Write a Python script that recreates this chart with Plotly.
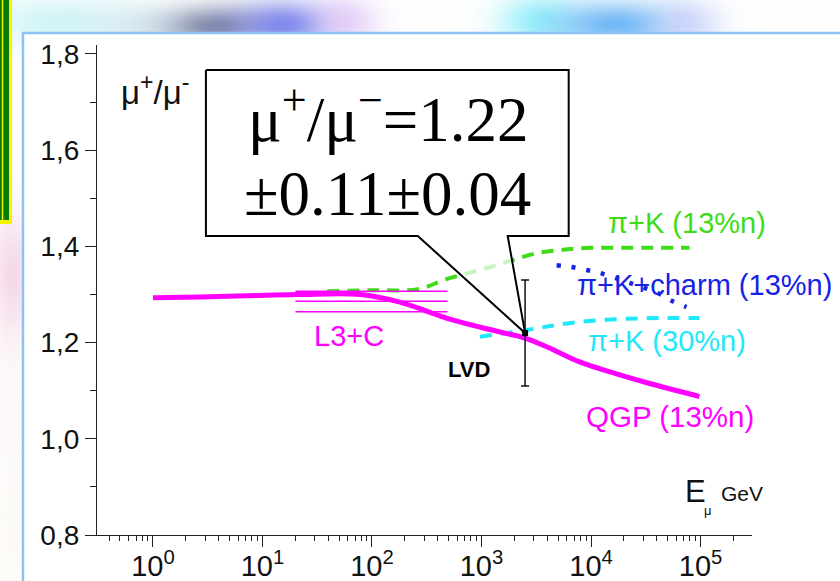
import base64
import struct
import zlib

import numpy as np
import plotly.graph_objects as go

# ---------------- data ----------------
# QGP (13%n) prediction
qgp_E = [1, 2.7, 9.5, 22, 78, 180, 513, 1480, 2450, 3980, 7870, 17100, 34300, 97700]
qgp_r = [1.293, 1.295, 1.298, 1.300, 1.300, 1.284, 1.249, 1.222, 1.210, 1.191, 1.160, 1.135, 1.115, 1.088]

# pi+K (13%n)
pk13_E = [39, 102, 263, 479, 1122, 1950, 3236, 5495, 9772, 22900, 79400]
pk13_r = [1.307, 1.309, 1.311, 1.332, 1.355, 1.372, 1.386, 1.393, 1.397, 1.397, 1.397]

# pi+K (30%n)
pk30_E = [966, 1928, 3260, 4660, 7870, 18240, 42300, 98000]
pk30_r = [1.212, 1.222, 1.230, 1.236, 1.243, 1.249, 1.251, 1.251]

# pi+K+charm (13%n)
charm_E = [4850, 6650, 9120, 11970, 24000, 40550, 55600, 74500]
charm_r = [1.361, 1.357, 1.351, 1.345, 1.322, 1.303, 1.286, 1.274]

# L3+C measurement band (energy span and ratio levels)
l3c_E = [20, 490]
l3c_r = [1.307, 1.286, 1.264]

# LVD measurement
lvd_E = [2500]
lvd_r = [1.22]
lvd_err = [0.11]

x_tick_vals = [1, 10, 100, 1000, 10000, 100000]
x_tick_text = ["10<sup>0</sup>", "10<sup>1</sup>", "10<sup>2</sup>",
               "10<sup>3</sup>", "10<sup>4</sup>", "10<sup>5</sup>"]

# ---------------- page geometry ----------------
W, H = 840, 581


def P(xpx, ypx):
    """pixel position on the page -> paper coordinates"""
    return xpx / W, 1 - ypx / H


# ---------------- soft slide background ----------------
def png_uri(rgb):
    h, w, _ = rgb.shape
    raw = b"".join(b"\x00" + rgb[i].tobytes() for i in range(h))

    def chunk(tag, data):
        c = struct.pack(">I", len(data)) + tag + data
        return c + struct.pack(">I", zlib.crc32(tag + data) & 0xFFFFFFFF)

    png = (b"\x89PNG\r\n\x1a\n"
           + chunk(b"IHDR", struct.pack(">IIBBBBB", w, h, 8, 2, 0, 0, 0))
           + chunk(b"IDAT", zlib.compress(raw, 9))
           + chunk(b"IEND", b""))
    return "data:image/png;base64," + base64.b64encode(png).decode()


yy, xx = np.mgrid[0:H, 0:W].astype(float)
bg = np.full((H, W, 3), 255.0)
blobs = [
    # cx, cy, sx, sy, colour, strength
    (60, 22, 55, 18, (205, 244, 246), 0.9),
    (140, 24, 40, 14, (212, 230, 240), 0.6),
    (215, 26, 35, 14, (105, 112, 148), 0.8),
    (285, 24, 35, 16, (110, 120, 235), 0.85),
    (345, 20, 22, 16, (228, 195, 245), 0.65),
    (540, 20, 28, 18, (150, 245, 250), 0.9),
    (615, 24, 45, 16, (100, 178, 245), 0.9),
    (685, 22, 22, 16, (198, 200, 250), 0.6),
    (12, 275, 14, 45, (240, 200, 222), 0.7),
    (12, 420, 14, 70, (248, 238, 242), 0.4),
    (12, 540, 14, 40, (250, 246, 228), 0.4),
]
for cx, cy, sx, sy, col, s in blobs:
    w = s * np.exp(-((xx - cx) ** 2 / (2 * sx ** 2) + (yy - cy) ** 2 / (2 * sy ** 2)))
    bg = bg * (1 - w[..., None]) + np.array(col, float) * w[..., None]
bg_uri = png_uri(np.clip(bg, 0, 255).astype(np.uint8))

# ---------------- figure ----------------
fig = go.Figure()

GREEN = "#3ddc16"
CYAN = "#1ee8fa"
BLUE = "#1423e6"
MAGENTA = "#ff00ff"

fig.add_trace(go.Scatter(x=pk13_E, y=pk13_r, mode="lines", line_shape="spline",
                         line=dict(color=GREEN, width=4, dash="12px,8px"),
                         showlegend=False, hoverinfo="skip"))
fig.add_trace(go.Scatter(x=pk30_E, y=pk30_r, mode="lines", line_shape="spline",
                         line=dict(color=CYAN, width=4, dash="12px,9px"),
                         showlegend=False, hoverinfo="skip"))
fig.add_trace(go.Scatter(x=charm_E, y=charm_r, mode="lines", line_shape="spline",
                         line=dict(color=BLUE, width=4.5, dash="4px,11px"),
                         showlegend=False, hoverinfo="skip"))

# L3+C band: three thin horizontal lines
l3_x, l3_y = [], []
for r in l3c_r:
    l3_x += [l3c_E[0], l3c_E[1], None]
    l3_y += [r, r, None]
fig.add_trace(go.Scatter(x=l3_x, y=l3_y, mode="lines",
                         line=dict(color=MAGENTA, width=1.5),
                         showlegend=False, hoverinfo="skip"))

fig.add_trace(go.Scatter(x=qgp_E, y=qgp_r, mode="lines", line_shape="spline",
                         line=dict(color=MAGENTA, width=5),
                         showlegend=False, hoverinfo="skip"))

# callout box pointing at the LVD point
box_E = (3.045, 6252)      # left / right edge of the box (GeV)
box_r = (1.4216, 1.7667)   # bottom / top of the box
stem_E = (262, 1734)       # where the pointer leaves the box
call_x = [box_E[0], box_E[1], box_E[1], stem_E[1], lvd_E[0], stem_E[0], box_E[0], box_E[0]]
call_y = [box_r[1], box_r[1], box_r[0], box_r[0], lvd_r[0], box_r[0], box_r[0], box_r[1]]
fig.add_trace(go.Scatter(x=call_x, y=call_y, mode="lines", fill="toself",
                         fillcolor="rgba(255,255,255,0.72)",
                         line=dict(color="black", width=2),
                         showlegend=False, hoverinfo="skip"))

fig.add_trace(go.Scatter(x=lvd_E, y=lvd_r, mode="markers",
                         marker=dict(symbol="square", size=6, color="black"),
                         error_y=dict(type="data", array=lvd_err, color="#111",
                                      thickness=1.5, width=4),
                         showlegend=False, hoverinfo="skip"))

# ---------------- axes ----------------
x_dom = (97 / W, 752 / W)
y_dom = (1 - 535 / H, 1 - 45 / H)

fig.update_xaxes(type="log", range=[-0.511, 5.470], domain=x_dom, automargin=False,
                 showline=True, linecolor="#222", linewidth=1.3,
                 ticks="outside", ticklen=11, tickwidth=1.3, tickcolor="#222",
                 tickvals=x_tick_vals, ticktext=x_tick_text, ticklabelstandoff=-6,
                 tickfont=dict(family="Liberation Sans, Arial", size=29, color="#111"),
                 showgrid=False, zeroline=False,
                 minor=dict(ticks="outside", ticklen=5, tickwidth=1.2,
                            tickcolor="#222", dtick="D1", showgrid=False))
fig.update_yaxes(range=[0.8, 1.8187], domain=y_dom, automargin=False,
                 showline=True, linecolor="#222", linewidth=1.3,
                 ticks="outside", ticklen=11, tickwidth=1.3, tickcolor="#222",
                 tick0=0.8, dtick=0.2, tickformat=".1f",
                 tickfont=dict(family="Liberation Sans, Arial", size=28, color="#111"),
                 showgrid=False, zeroline=False,
                 minor=dict(ticks="outside", ticklen=6, tickwidth=1.2,
                            tickcolor="#222", dtick=0.1, showgrid=False))

# ---------------- page decoration ----------------
shapes = []
# white chart panel with light-blue frame
x0, y0 = P(23, 581 + 5)
x1, y1 = P(840 + 5, 33)
shapes.append(dict(type="rect", xref="paper", yref="paper", x0=x0, y0=y0, x1=x1, y1=y1,
                   fillcolor="white", line=dict(color="#8cc3f7", width=2.5), layer="below"))
# green/yellow side bar
a0, b0 = P(-6, 224)
a1, b1 = P(12, -5)
shapes.append(dict(type="rect", xref="paper", yref="paper", x0=a0, y0=b0, x1=a1, y1=b1,
                   fillcolor="#f4f400", line=dict(width=0), layer="below"))
a0, b0 = P(-6, 220)
a1, b1 = P(9, -5)
shapes.append(dict(type="rect", xref="paper", yref="paper", x0=a0, y0=b0, x1=a1, y1=b1,
                   fillcolor="#087a08", line=dict(width=0), layer="below"))
a0, b0 = P(2.5, 220)
a1, b1 = P(2.5, -5)
shapes.append(dict(type="line", xref="paper", yref="paper", x0=a0, y0=b0, x1=a1, y1=b1,
                   line=dict(color="#f4f400", width=1.5), layer="below"))

# ---------------- text ----------------
ann = []


def text(xpx, ypx, s, size, color="#111", family="Liberation Sans, Arial",
         xanchor="left", bold=False):
    x, y = P(xpx, ypx)
    if bold:
        s = "<b>" + s + "</b>"
    ann.append(dict(x=x, y=y, xref="paper", yref="paper", text=s, showarrow=False,
                    xanchor=xanchor, yanchor="middle",
                    font=dict(family=family, size=size, color=color)))


SERIF = "Liberation Serif, Times New Roman"
text(119, 90, "μ<sup>+</sup>/μ<sup>-</sup>", 33)
text(388, 116, "μ<sup>+</sup>/μ<sup>−</sup>=1.22", 63, "black", SERIF, "center")
text(387, 194, "±0.11±0.04", 63, "black", SERIF, "center")
text(606, 223, "π+K (13%n)", 29, GREEN)
text(575, 285, "π+K+charm (13%n)", 29, BLUE)
text(586, 341, "π+K (30%n)", 29, CYAN)
text(584, 416, "QGP (13%n)", 29.5, MAGENTA)
text(312, 336, "L3+C", 29, MAGENTA)
text(446, 369, "LVD", 22, "black", bold=True)
text(683, 491, "E", 31)
text(702, 511, "μ", 13)
text(719, 493, "GeV", 21)

fig.update_layout(
    width=W, height=H, margin=dict(l=0, r=0, t=0, b=0, autoexpand=False),
    paper_bgcolor="white", plot_bgcolor="rgba(0,0,0,0)",
    separators=",.",
    shapes=shapes, annotations=ann,
    images=[dict(source=bg_uri, xref="paper", yref="paper", x=0, y=1,
                 sizex=1, sizey=1, xanchor="left", yanchor="top",
                 sizing="stretch", layer="below")],
)

fig.write_html("out.html")
